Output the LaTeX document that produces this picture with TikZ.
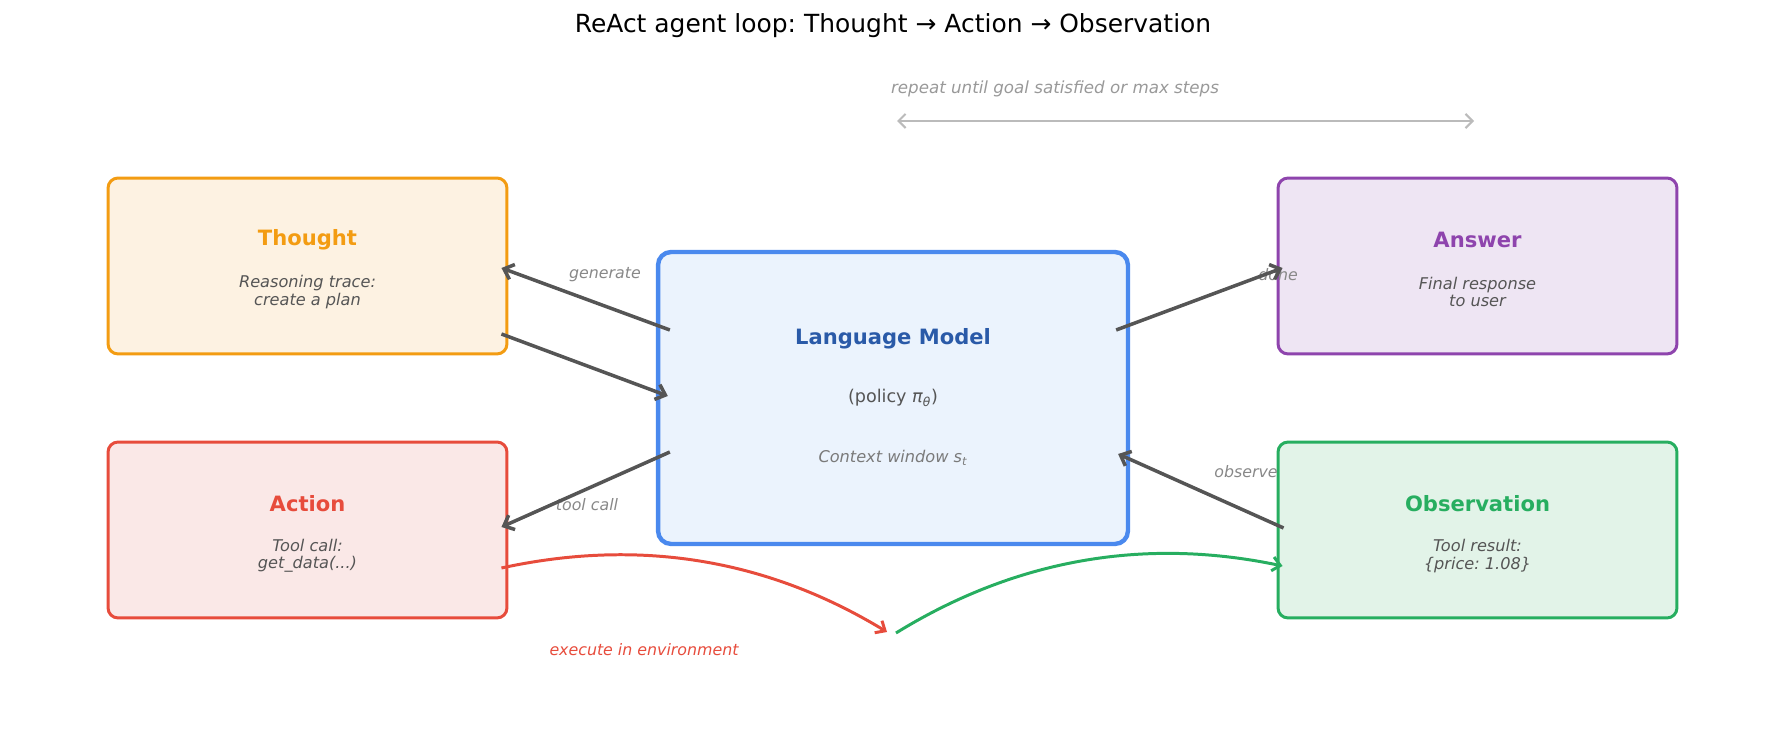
\documentclass[tikz,border=0pt]{standalone}
\usepackage{fontspec}
\setmainfont{DejaVu Sans}
\usetikzlibrary{arrows.meta}
\definecolor{thoughtc}{HTML}{F39C12}
\definecolor{thoughtf}{HTML}{FDF2E2}
\definecolor{actionc}{HTML}{E74C3C}
\definecolor{actionf}{HTML}{FAE8E7}
\definecolor{answerc}{HTML}{8E44AD}
\definecolor{answerf}{HTML}{EEE5F3}
\definecolor{obsc}{HTML}{27AE60}
\definecolor{obsf}{HTML}{E2F3E8}
\definecolor{lmc}{HTML}{4A89EE}
\definecolor{lmf}{HTML}{EBF3FD}
\definecolor{lmtext}{HTML}{2A5AA8}
\definecolor{flowc}{HTML}{555555}
\definecolor{subc}{HTML}{555555}
\definecolor{labc}{HTML}{888888}
\definecolor{loopc}{HTML}{BBBBBB}
\definecolor{looptext}{HTML}{999999}
\frenchspacing
\begin{document}
\begin{tikzpicture}[x=0.02cm, y=-0.02cm,
    box/.style={draw, rounded corners=0.2cm, line width=1.7pt,
      minimum width=7.98cm, minimum height=3.52cm},
    head/.style={font=\fontsize{12}{14}\selectfont\bfseries},
    sub/.style={align=center, text=subc, font=\fontsize{9.2}{9.8}\selectfont\itshape},
    edgelab/.style={text=labc, font=\fontsize{9}{11}\selectfont\itshape},
    flow/.style={draw=flowc, line width=2pt, -{Straight Barb[length=5pt,width=9pt]}},
  ]
    \useasboundingbox (0,0) rectangle (1785,742);
    \node[font=\fontsize{14.2}{17}\selectfont] (title) at (893,26)
      {ReAct agent loop: Thought → Action → Observation};

    % boxes
    \node[box, draw=thoughtc, fill=thoughtf] (thought) at (307.5,266) {};
    \node[box, draw=actionc, fill=actionf] (action) at (307.5,530) {};
    \node[box, draw=answerc, fill=answerf] (answer) at (1477.5,266) {};
    \node[box, draw=obsc, fill=obsf] (obs) at (1477.5,530) {};
    \node[draw=lmc, fill=lmf, line width=2.5pt, rounded corners=0.26cm,
      minimum width=9.4cm, minimum height=5.84cm] (lm) at (893,398) {};

    \node[head, text=thoughtc] (thoughtT) at ([shift={(0,-26)}]thought.center) {Thought};
    \node[sub] (thoughtS) at ([shift={(0,26)}]thought.center) {Reasoning trace:\\create a plan};
    \node[head, text=actionc] (actionT) at ([shift={(0,-26)}]action.center) {Action};
    \node[sub] (actionS) at ([shift={(0,26)}]action.center) {Tool call:\\get\_data(...)};
    \node[head, text=answerc] (answerT) at ([shift={(0,-26)}]answer.center) {Answer};
    \node[sub] (answerS) at ([shift={(0,26)}]answer.center) {Final response\\to user};
    \node[head, text=obsc] (obsT) at ([shift={(0,-26)}]obs.center) {Observation};
    \node[sub] (obsS) at ([shift={(0,26)}]obs.center) {Tool result:\\\{price: 1.08\}};

    \node[head, text=lmtext] (lmT) at ([shift={(0,-59)}]lm.center) {Language Model};
    \node[text=subc, font=\fontsize{10}{12}\selectfont] (lmP) at (lm.center)
      {(policy {\itshape π}\textsubscript{\itshape θ})};
    \node[text=labc!90!black, font=\fontsize{9.2}{11}\selectfont\itshape] (lmC)
      at ([shift={(0,60)}]lm.center) {Context window s\textsubscript{t}};

    % edge labels
    \node[edgelab] (genL) at (605,275) {generate};
    \node[edgelab] (callL) at (587,505) {tool call};
    \node[edgelab] (doneL) at (1278,275) {done};
    \node[edgelab] (obsL) at (1246,472) {observe};
    \node[edgelab, text=actionc] (execL) at (644,650) {execute in environment};

    % loop
    \draw[flow] ([shift={(14,-68)}]lm.west) -- ([shift={(-7,2)}]thought.east);
    \draw[flow] ([shift={(-7,68)}]thought.east) -- ([shift={(12,-2)}]lm.west);
    \draw[flow] ([shift={(14,54)}]lm.west) -- ([shift={(-7,-3)}]action.east);
    \draw[flow] ([shift={(-14,-68)}]lm.east) -- ([shift={(6,2)}]answer.west);
    \draw[flow] ([shift={(7,-2)}]obs.west) -- ([shift={(-12,56)}]lm.east);

    % environment
    \coordinate (envL) at (887,632);
    \coordinate (envR) at (896,633);
    \draw[actionc, line width=1.7pt, -{Straight Barb[length=4.5pt,width=8pt]}]
      ([shift={(-7,38)}]action.east) .. controls (639,538) and (767,559) .. (envL);
    \draw[obsc, line width=1.7pt, -{Straight Barb[length=4.5pt,width=8pt]}]
      (envR) .. controls (1016,559) and (1145,537) .. ([shift={(6,36)}]obs.west);

    % repeat
    \coordinate (loopL) at (897,121);
    \coordinate (loopR) at (1474,121);
    \draw[loopc, line width=1.2pt, {Straight Barb[length=4pt,width=8pt]}-{Straight Barb[length=4pt,width=8pt]}]
      (loopL) -- (loopR);
    \node[text=looptext, font=\fontsize{9.5}{11}\selectfont\itshape] (loopT) at (1055,89)
      {repeat until goal satisfied or max steps};
\end{tikzpicture}
\end{document}
